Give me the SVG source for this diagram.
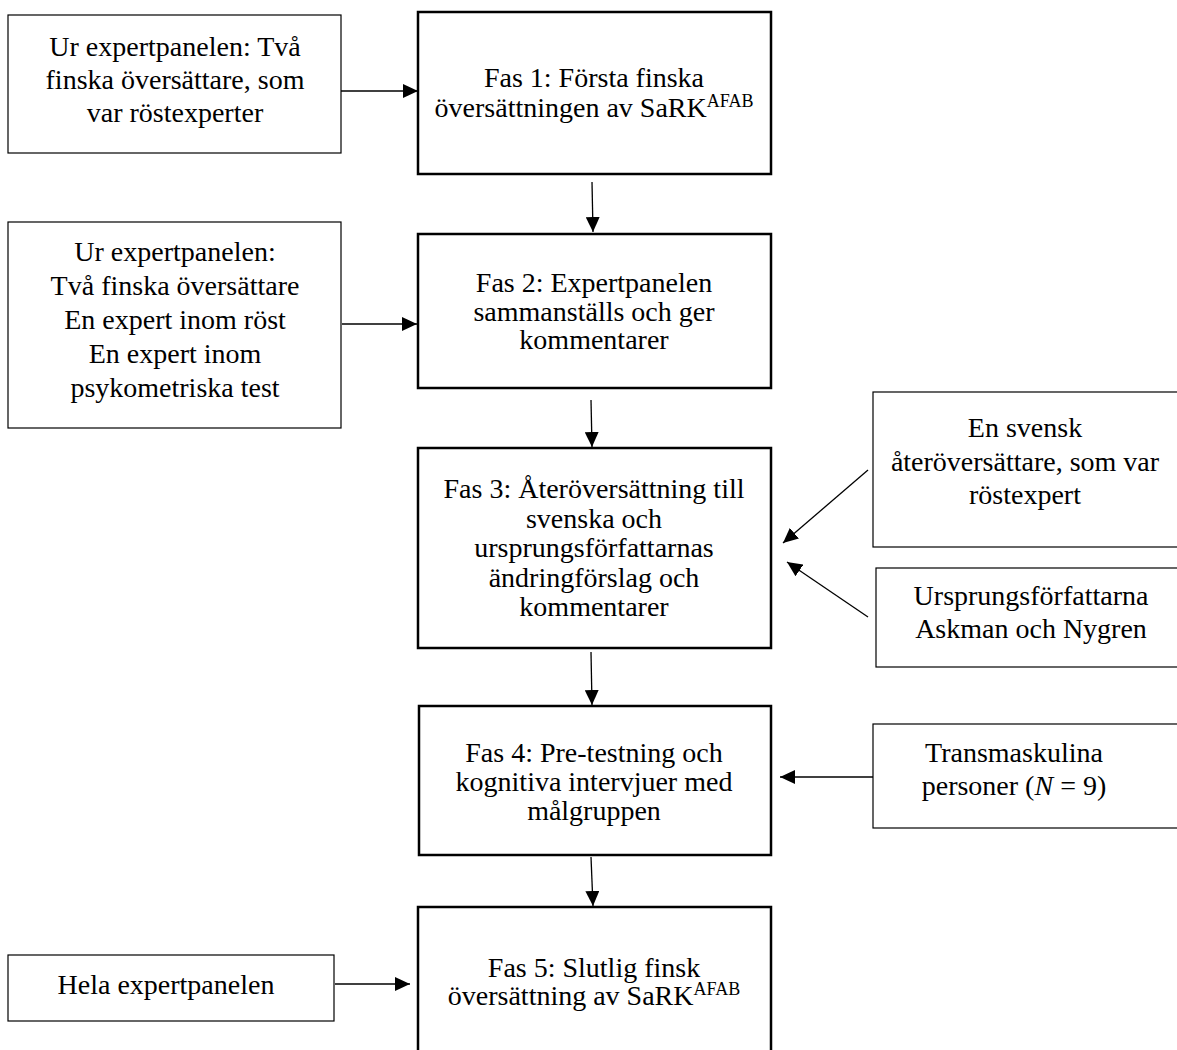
<svg xmlns="http://www.w3.org/2000/svg" width="1177" height="1050" viewBox="0 0 1177 1050">
<style>
.t{font-family:"Liberation Serif","Times New Roman",serif;font-size:28px;fill:#000;text-anchor:middle}
.sup{font-size:18px}
.phase{fill:#fff;stroke:#000;stroke-width:2.5}
.side{fill:#fff;stroke:#000;stroke-width:1.2}
.c{stroke:#000;stroke-width:1.3;fill:none;marker-end:url(#ah)}
</style>
<defs>
<marker id="ah" markerWidth="15" markerHeight="14" refX="15" refY="7" orient="auto" markerUnits="userSpaceOnUse">
<path d="M0,0 L15,7 L0,14 Z" fill="#000"/>
</marker>
</defs>
<rect width="1177" height="1050" fill="#fff"/>
<g id="connectors">
<line class="c" x1="341" y1="91" x2="418" y2="91"/>
<line class="c" x1="592" y1="182" x2="593" y2="232"/>
<line class="c" x1="342" y1="324" x2="417" y2="324"/>
<line class="c" x1="591" y1="400" x2="592" y2="447"/>
<line class="c" x1="868" y1="470" x2="783" y2="543"/>
<line class="c" x1="868" y1="617" x2="787" y2="562"/>
<line class="c" x1="591" y1="652" x2="592" y2="705"/>
<line class="c" x1="875" y1="777" x2="780" y2="777"/>
<line class="c" x1="591" y1="857" x2="593" y2="906"/>
<line class="c" x1="335" y1="984" x2="410" y2="984"/>
</g>
<g id="nodeA">
<rect class="side" x="8" y="15" width="333" height="138"/>
<text class="t" x="175" y="56">Ur expertpanelen: Två</text>
<text class="t" x="175" y="89">finska översättare, som</text>
<text class="t" x="175" y="122">var röstexperter</text>
</g>
<g id="fas1">
<rect class="phase" x="418" y="12" width="353" height="162"/>
<text class="t" x="594" y="87">Fas 1: Första finska</text>
<text class="t" x="594" y="117">översättningen av SaRK<tspan class="sup" dy="-10">AFAB</tspan></text>
</g>
<g id="nodeB">
<rect class="side" x="8" y="222" width="333" height="206"/>
<text class="t" x="175" y="261">Ur expertpanelen:</text>
<text class="t" x="175" y="295">Två finska översättare</text>
<text class="t" x="175" y="329">En expert inom röst</text>
<text class="t" x="175" y="363">En expert inom</text>
<text class="t" x="175" y="397">psykometriska test</text>
</g>
<g id="fas2">
<rect class="phase" x="418" y="234" width="353" height="154"/>
<text class="t" x="594" y="292">Fas 2: Expertpanelen</text>
<text class="t" x="594" y="321">sammanställs och ger</text>
<text class="t" x="594" y="349">kommentarer</text>
</g>
<g id="fas3">
<rect class="phase" x="418" y="448" width="353" height="200"/>
<text class="t" x="594" y="498">Fas 3: Återöversättning till</text>
<text class="t" x="594" y="528">svenska och</text>
<text class="t" x="594" y="557">ursprungsförfattarnas</text>
<text class="t" x="594" y="587">ändringförslag och</text>
<text class="t" x="594" y="616">kommentarer</text>
</g>
<g id="nodeC">
<rect class="side" x="873" y="392" width="310" height="155"/>
<text class="t" x="1025" y="437">En svensk</text>
<text class="t" x="1025" y="471">återöversättare, som var</text>
<text class="t" x="1025" y="504">röstexpert</text>
</g>
<g id="nodeD">
<rect class="side" x="876" y="568" width="307" height="99"/>
<text class="t" x="1031" y="605">Ursprungsförfattarna</text>
<text class="t" x="1031" y="638">Askman och Nygren</text>
</g>
<g id="fas4">
<rect class="phase" x="419" y="706" width="352" height="149"/>
<text class="t" x="594" y="762">Fas 4: Pre-testning och</text>
<text class="t" x="594" y="791">kognitiva intervjuer med</text>
<text class="t" x="594" y="820">målgruppen</text>
</g>
<g id="nodeE">
<rect class="side" x="873" y="724" width="310" height="104"/>
<text class="t" x="1014" y="762">Transmaskulina</text>
<text class="t" x="1014" y="795">personer (<tspan font-style="italic">N</tspan> = 9)</text>
</g>
<g id="fas5">
<rect class="phase" x="418" y="907" width="353" height="160"/>
<text class="t" x="594" y="977">Fas 5: Slutlig finsk</text>
<text class="t" x="594" y="1005">översättning av SaRK<tspan class="sup" dy="-10">AFAB</tspan></text>
</g>
<g id="nodeF">
<rect class="side" x="8" y="955" width="326" height="66"/>
<text class="t" x="166" y="994">Hela expertpanelen</text>
</g>
</svg>
